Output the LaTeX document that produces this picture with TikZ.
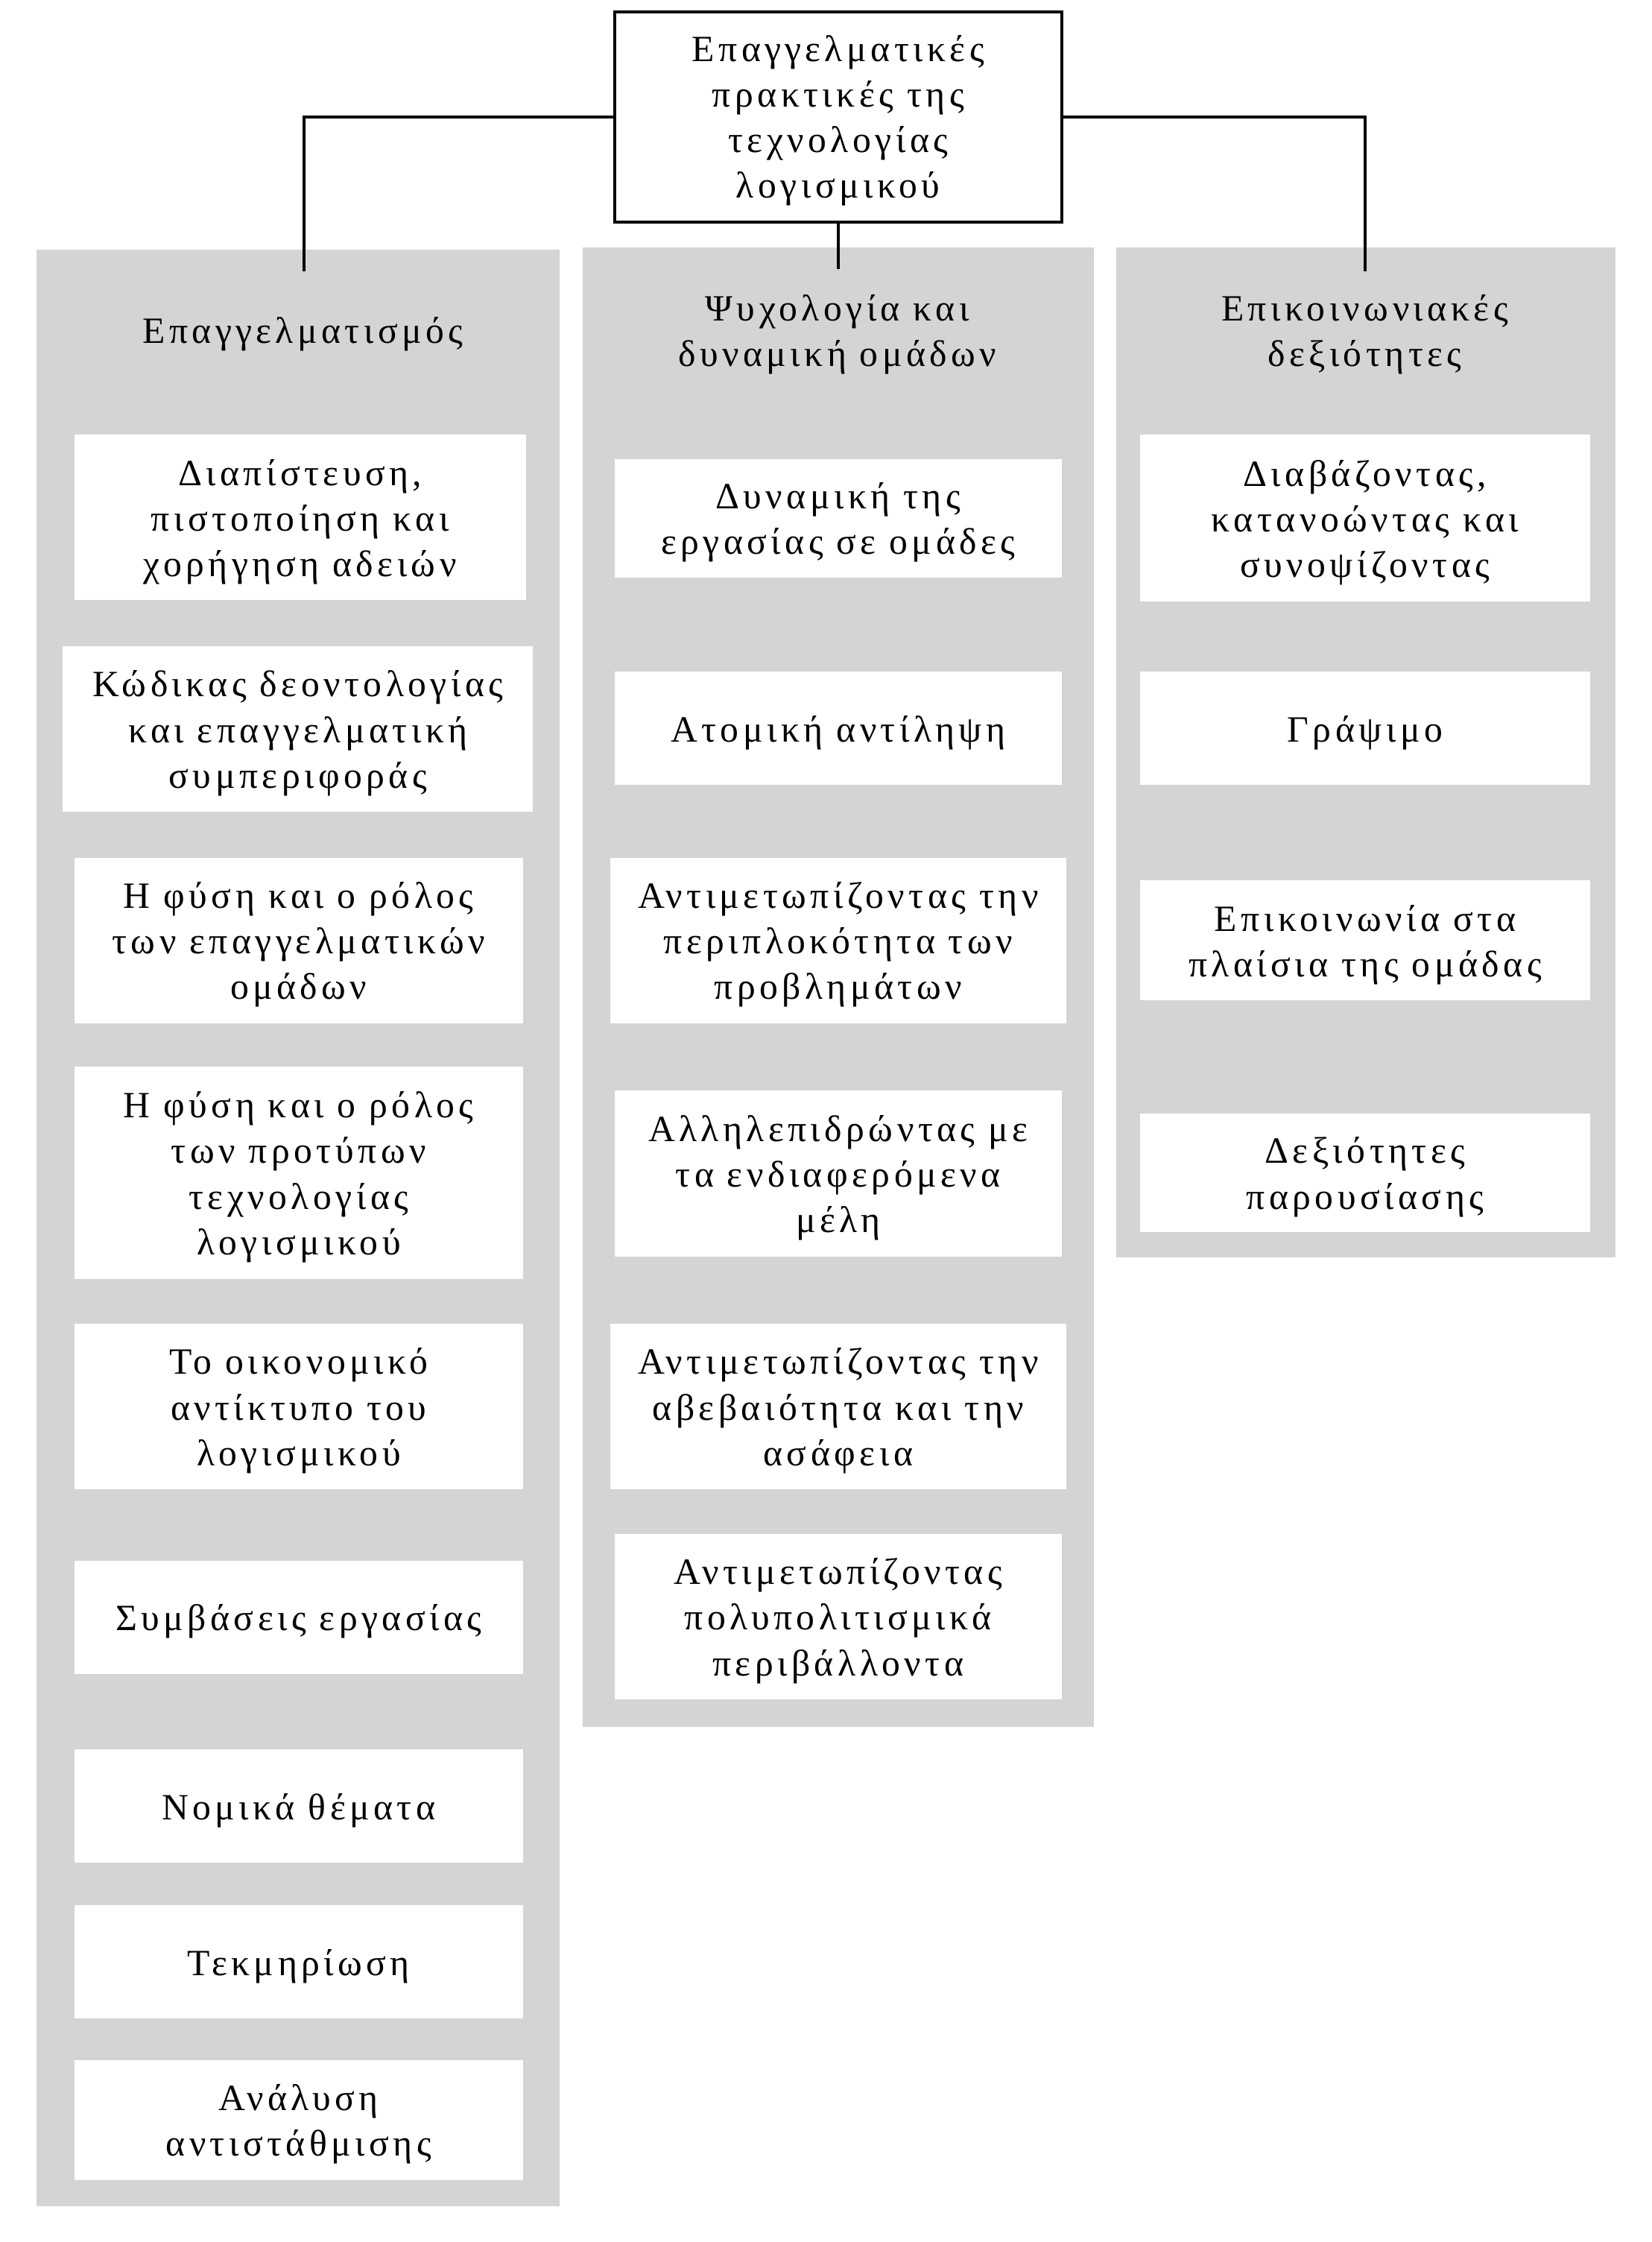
\documentclass[tikz,border=0pt]{standalone}
\usepackage{fontspec}
\setmainfont{Liberation Serif}[LetterSpace=11]
\begin{document}
\begin{tikzpicture}[x=1.0037pt,y=-1.0037pt,
  panel/.style={fill=black!17,draw=none,inner sep=0pt,anchor=north west},
  wbox/.style={fill=white,draw=none,inner sep=0pt},
  wtext/.style={inner sep=0pt,align=center,font=\fontsize{26}{32}\selectfont},
  hdr/.style={align=center,inner sep=0pt,font=\fontsize{26}{32}\selectfont},
  rootbox/.style={fill=white,draw=black,line width=2.1pt,inner sep=0pt},
  conn/.style={draw=black,line width=2.1pt}]
\useasboundingbox (0,0) rectangle (1156,1568.5);
\newcommand\mkbox[6]{\node[wbox,minimum width={1.0037*(#4-#2)},minimum height={1.0037*(#5-#3)}] (#1) at ({(#2+#4)/2},{(#3+#5)/2}) {};
  \node[wtext] (#1t) at ([yshift=-3pt]#1.center) {#6};}
\newcommand\mkpanel[5]{\node[panel,minimum width={1.0037*(#4-#2)},minimum height={1.0037*(#5-#3)}] (#1) at (#2,#3) {};}
% panels
\mkpanel{pl}{25.3}{174.5}{391.5}{1543}
\mkpanel{pm}{407.5}{172.8}{765.5}{1208}
\mkpanel{pr}{780.7}{172.8}{1130.2}{879.5}
% root
\node[rootbox,minimum width={1.0037*313},minimum height={1.0037*147}] (root) at (586.5,82) {};
\node[wtext] (roott) at ([yshift=-2.5pt]root.center) {Επαγγελματικές\\πρακτικές της\\τεχνολογίας\\λογισμικού};
% connectors
\coordinate (lt) at (212.5,190);
\coordinate (ct) at (586.5,188);
\coordinate (rt) at (955.5,190);
\draw[conn] (root.west) -| (lt);
\draw[conn] (root.east) -| (rt);
\draw[conn] (root.south) -- (ct);
% headers
\node[hdr] (hl) at (212,234) {Επαγγελματισμός};
\node[hdr] (hm) at (586,234) {Ψυχολογία και\\δυναμική ομάδων};
\node[hdr] (hr) at (955,234) {Επικοινωνιακές\\δεξιότητες};
% left column
\mkbox{l1}{52}{304}{368}{420}{Διαπίστευση,\\πιστοποίηση και\\χορήγηση αδειών}
\mkbox{l2}{44}{452}{373}{568}{Κώδικας δεοντολογίας\\και επαγγελματική\\συμπεριφοράς}
\mkbox{l3}{52}{600}{366}{716}{Η φύση και ο ρόλος\\των επαγγελματικών\\ομάδων}
\mkbox{l4}{52}{746}{366}{895}{Η φύση και ο ρόλος\\των προτύπων\\τεχνολογίας\\λογισμικού}
\mkbox{l5}{52}{926}{366}{1042}{Το οικονομικό\\αντίκτυπο του\\λογισμικού}
\mkbox{l6}{52}{1092}{366}{1171}{Συμβάσεις εργασίας}
\mkbox{l7}{52}{1224}{366}{1303}{Νομικά θέματα}
\mkbox{l8}{52}{1333}{366}{1412}{Τεκμηρίωση}
\mkbox{l9}{52}{1441}{366}{1525}{Ανάλυση\\αντιστάθμισης}
% middle column
\mkbox{m1}{430}{321}{743}{404}{Δυναμική της\\εργασίας σε ομάδες}
\mkbox{m2}{430}{470}{743}{549}{Ατομική αντίληψη}
\mkbox{m3}{427}{600}{746}{716}{Αντιμετωπίζοντας την\\περιπλοκότητα των\\προβλημάτων}
\mkbox{m4}{430}{763}{743}{879}{Αλληλεπιδρώντας με\\τα ενδιαφερόμενα\\μέλη}
\mkbox{m5}{427}{926}{746}{1042}{Αντιμετωπίζοντας την\\αβεβαιότητα και την\\ασάφεια}
\mkbox{m6}{430}{1073}{743}{1189}{Αντιμετωπίζοντας\\πολυπολιτισμικά\\περιβάλλοντα}
% right column
\mkbox{r1}{798}{304}{1112.5}{421}{Διαβάζοντας,\\κατανοώντας και\\συνοψίζοντας}
\mkbox{r2}{798}{470}{1112.5}{549}{Γράψιμο}
\mkbox{r3}{798}{616}{1112.5}{700}{Επικοινωνία στα\\πλαίσια της ομάδας}
\mkbox{r4}{798}{779}{1112.5}{862}{Δεξιότητες\\παρουσίασης}
\end{tikzpicture}
\end{document}
